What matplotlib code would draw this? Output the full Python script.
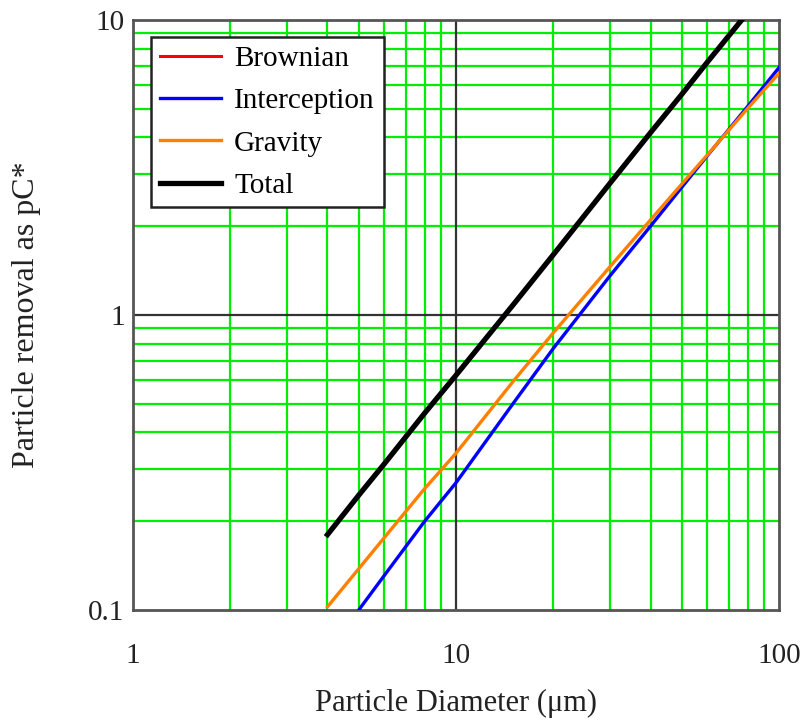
import matplotlib
matplotlib.use("Agg")
import matplotlib.pyplot as plt
from matplotlib.ticker import FixedLocator, NullFormatter, FixedFormatter

# particle diameter (um)
dp = [4, 5, 6, 8, 10, 15, 20, 30, 40, 50, 60, 80, 100]
# particle removal as pC*
brownian = [0.012, 0.010, 0.0088, 0.0073, 0.0063, 0.0048, 0.0040, 0.0030, 0.0025, 0.0022, 0.0019, 0.0016, 0.0014]
interception = [0.072, 0.100, 0.131, 0.200, 0.270, 0.500, 0.770, 1.36, 2.00, 2.71, 3.47, 5.10, 6.90]
gravity = [0.1025, 0.138, 0.176, 0.258, 0.340, 0.594, 0.870, 1.46, 2.10, 2.78, 3.49, 5.02, 6.60]
total = [0.180, 0.245, 0.313, 0.465, 0.625, 1.08, 1.60, 2.80, 4.15, 5.60, 7.20, 10.6, 14.4]

xticks = [1, 10, 100]
yticks = [0.1, 1, 10]

plt.rcParams['font.family'] = ['Liberation Serif', 'DejaVu Serif']

fig = plt.figure(figsize=(8.04, 7.21), dpi=100)
ax = fig.add_axes([0.1654, 0.154, 0.8036, 0.8183])
ax.set_xscale('log')
ax.set_yscale('log')
ax.set_xlim(1, 100)
ax.set_ylim(0.1, 10)

# minor grid green, major grid black
minor_x = [m * d for d in (1, 10) for m in range(2, 10)]
minor_y = [m * d for d in (0.1, 1) for m in range(2, 10)]
for v in minor_x:
    ax.axvline(v, color='#00ee00', lw=1.6, zorder=1)
for v in minor_y:
    ax.axhline(v, color='#00ee00', lw=1.6, zorder=1)
ax.axvline(10, color='#333333', lw=1.6, zorder=1.5)
ax.axhline(1, color='#333333', lw=1.6, zorder=1.5)

ax.plot(dp, brownian, color='#ff0000', lw=2.2, label='Brownian', zorder=3)
ax.plot(dp, interception, color='#0000ff', lw=2.4, label='Interception', zorder=3)
ax.plot(dp, gravity, color='#ff8000', lw=2.4, label='Gravity', zorder=3)
ax.plot(dp, total, color='black', lw=3.8, label='Total', zorder=3)

ax.xaxis.set_major_locator(FixedLocator(xticks))
ax.xaxis.set_major_formatter(FixedFormatter(['1', '10', '100']))
ax.xaxis.set_minor_formatter(NullFormatter())
ax.yaxis.set_major_locator(FixedLocator(yticks))
ax.yaxis.set_major_formatter(FixedFormatter(['0.1', '1', '10']))
ax.yaxis.set_minor_formatter(NullFormatter())
ax.tick_params(which='both', length=0, labelsize=21, labelcolor='#222222')
ax.tick_params(axis='x', pad=24)
ax.tick_params(axis='y', pad=6)

for s in ax.spines.values():
    s.set_color('#555555')
    s.set_linewidth(2)

ax.set_xlabel('Particle Diameter (μm)', fontsize=22, color='#222222', labelpad=14)
ax.set_ylabel('Particle removal as pC*', fontsize=23, color='#222222', labelpad=34)

leg = ax.legend(loc='upper left', bbox_to_anchor=(0.028, 0.971), fontsize=21,
                fancybox=False, framealpha=1, edgecolor='#222222',
                handlelength=2.1, handletextpad=0.45, labelspacing=0.54,
                borderpad=0.3, borderaxespad=0)
leg.get_frame().set_linewidth(1.8)

fig.savefig('out.png', dpi=100)
